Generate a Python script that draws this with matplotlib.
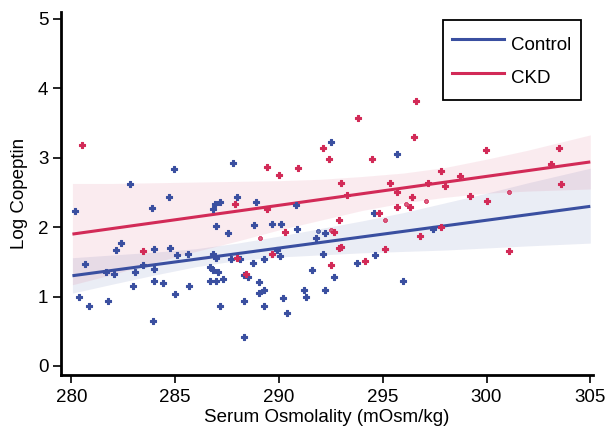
import matplotlib
matplotlib.use("Agg")
import matplotlib.pyplot as plt
from matplotlib.lines import Line2D

plt.rcParams['font.family'] = ['Liberation Sans', 'DejaVu Sans']

# ---------------- data ----------------
ctrl_x = [280.16, 282.8, 284.95, 283.9, 284.7, 287.8, 286.9, 287.17, 286.8, 288.0,
          292.5, 295.7, 288.9, 290.8, 294.6, 297.4, 286.98, 287.55, 282.4, 282.16,
          284.0, 284.76, 285.1, 285.6, 286.8, 286.98, 287.7, 288.1, 280.66, 281.68,
          282.06, 283.46, 283.07, 283.96, 286.7, 286.8, 287.07, 286.7, 286.98, 287.3,
          283.96, 284.4, 282.98, 285.67, 284.97, 280.38, 280.86, 281.77, 287.17, 283.94,
          288.8, 289.67, 290.1, 290.88, 292.2, 291.77, 289.9, 290.06, 292.1, 294.65,
          288.76, 289.3, 293.77, 296.0, 291.6, 292.67, 288.3, 288.5, 289.05, 289.3,
          289.05, 291.2, 292.2, 291.3, 290.2, 288.3, 289.3, 290.4, 288.3]
ctrl_y = [2.23, 2.62, 2.84, 2.27, 2.43, 2.92, 2.34, 2.36, 2.26, 2.43,
          3.22, 3.06, 2.36, 2.32, 2.21, 1.98, 2.01, 1.91, 1.77, 1.67,
          1.68, 1.70, 1.60, 1.61, 1.62, 1.56, 1.54, 1.54, 1.47, 1.36,
          1.32, 1.46, 1.35, 1.39, 1.42, 1.38, 1.36, 1.22, 1.22, 1.25,
          1.22, 1.20, 1.15, 1.15, 1.03, 0.99, 0.87, 0.94, 0.87, 0.65,
          2.03, 2.04, 2.04, 1.97, 1.91, 1.84, 1.67, 1.58, 1.62, 1.60,
          1.48, 1.54, 1.48, 1.23, 1.38, 1.28, 1.31, 1.28, 1.21, 1.10,
          1.05, 1.10, 1.09, 0.99, 0.98, 0.93, 0.87, 0.77, 0.41]
ctrl_faint_x = [291.9]
ctrl_faint_y = [1.94]

ckd_x = [280.5, 287.9, 293.8, 292.1, 292.4, 294.5, 296.5, 296.6, 289.4, 290.9,
         290.0, 293.0, 295.36, 293.3, 295.7, 296.4, 295.7, 296.3, 289.4, 294.8,
         292.9, 299.98, 303.5, 303.1, 297.8, 298.7, 297.2, 298.0, 303.6, 299.2,
         300.0, 297.8, 296.8, 301.1, 283.46, 287.99, 290.3, 292.66, 289.67, 292.9,
         293.0, 295.1, 292.5, 294.15, 288.4]
ckd_y = [3.18, 2.33, 3.58, 3.14, 2.98, 2.98, 3.30, 3.82, 2.86, 2.85,
         2.75, 2.63, 2.63, 2.47, 2.51, 2.43, 2.29, 2.29, 2.26, 2.20,
         2.11, 3.11, 3.14, 2.91, 2.81, 2.73, 2.63, 2.59, 2.62, 2.45,
         2.37, 2.00, 1.87, 1.66, 1.66, 1.55, 1.93, 1.93, 1.62, 1.70,
         1.71, 1.68, 1.45, 1.51, 1.32]
ckd_faint_x = [296.1, 297.1, 301.1, 289.1, 292.5, 295.1]
ckd_faint_y = [2.34, 2.37, 2.50, 1.85, 1.96, 2.11]

# fitted lines
fit_x_ends = [280.05, 305.0]
ctrl_fit_y = [1.30, 2.30]
ckd_fit_y = [1.90, 2.94]

# confidence bands
band_x = [280.05, 282, 284, 286, 288, 290, 292, 294, 296, 298, 300, 302, 305]
ctrl_lo = [1.05, 1.18, 1.31, 1.43, 1.52, 1.57, 1.60, 1.63, 1.65, 1.67, 1.70, 1.73, 1.77]
ctrl_hi = [1.56, 1.60, 1.64, 1.69, 1.77, 1.87, 1.98, 2.09, 2.21, 2.35, 2.49, 2.64, 2.85]
ckd_lo = [1.17, 1.32, 1.49, 1.65, 1.80, 1.96, 2.10, 2.24, 2.35, 2.43, 2.49, 2.52, 2.55]
ckd_hi = [2.63, 2.63, 2.64, 2.65, 2.66, 2.67, 2.69, 2.73, 2.78, 2.86, 2.98, 3.11, 3.33]

labels = ["Control", "CKD"]
xticks = [280, 285, 290, 295, 300, 305]
yticks = [0, 1, 2, 3, 4, 5]

BLUE = "#3A4FA0"
RED = "#D22A57"
FS = 13.5

# ---------------- plot ----------------
fig = plt.figure(figsize=(6.08, 4.30), dpi=100)
ax = fig.add_axes([0.100, 0.128, 0.875, 0.844])

ax.fill_between(band_x, ctrl_lo, ctrl_hi, color=BLUE, alpha=0.10, lw=0, zorder=1)
ax.fill_between(band_x, ckd_lo, ckd_hi, color=RED, alpha=0.09, lw=0, zorder=1)

ax.plot(fit_x_ends, ctrl_fit_y, color=BLUE, lw=2.2, zorder=2, solid_capstyle='butt')
ax.plot(fit_x_ends, ckd_fit_y, color=RED, lw=2.2, zorder=2, solid_capstyle='butt')

ax.scatter(ctrl_x, ctrl_y, marker='P', s=14, color=BLUE, edgecolors=BLUE, linewidths=0.8, zorder=3)
ax.scatter(ckd_x, ckd_y, marker='P', s=14, color=RED, edgecolors=RED, linewidths=0.8, zorder=3)
ax.scatter(ctrl_faint_x, ctrl_faint_y, marker='P', s=12, color=BLUE, edgecolors=BLUE,
           alpha=0.75, linewidths=0.7, zorder=3)
ax.scatter(ckd_faint_x, ckd_faint_y, marker='P', s=12, color=RED, edgecolors=RED,
           alpha=0.75, linewidths=0.7, zorder=3)

ax.set_xlim(279.49, 305.12)
ax.set_ylim(-0.13, 5.10)
ax.set_xticks(xticks)
ax.set_yticks(yticks)
ax.tick_params(axis='both', labelsize=FS, length=6, width=1.2, direction='out')
ax.tick_params(axis='x', pad=4)
ax.tick_params(axis='y', pad=3)

for s in ['top', 'right']:
    ax.spines[s].set_visible(False)
for s in ['left', 'bottom']:
    ax.spines[s].set_linewidth(2.0)

ax.set_xlabel("Serum Osmolality (mOsm/kg)", fontsize=FS, labelpad=2)
ax.set_ylabel("Log Copeptin", fontsize=FS, labelpad=7)

handles = [Line2D([0], [0], color=BLUE, lw=2.2), Line2D([0], [0], color=RED, lw=2.2)]
leg = ax.legend(handles, labels, loc='upper right', bbox_to_anchor=(0.977, 0.978),
                borderaxespad=0, fancybox=False, frameon=True, fontsize=FS,
                handlelength=2.75, handleheight=1.95, handletextpad=0.37,
                labelspacing=0.26, borderpad=0.5)
leg.get_frame().set_edgecolor('black')
leg.get_frame().set_linewidth(1.3)
leg.get_frame().set_alpha(1)

fig.savefig("out.png", dpi=100)
